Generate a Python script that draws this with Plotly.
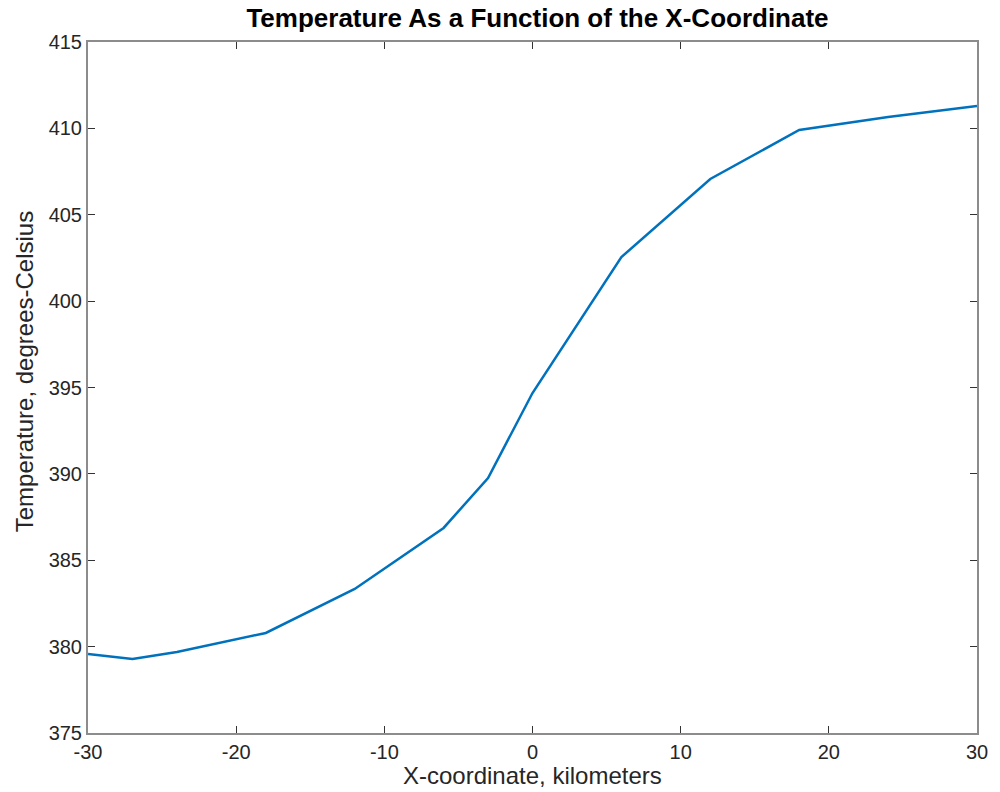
import plotly.graph_objects as go

# Temperature profile along the x-coordinate
x_km = [-30, -27, -24, -18, -12, -6, -3, 0, 6, 12, 18, 24, 30]
temp_c = [379.57, 379.28, 379.69, 380.79, 383.34, 386.87, 389.76,
          394.68, 402.55, 407.07, 409.91, 410.66, 411.30]

x_ticks = [-30, -20, -10, 0, 10, 20, 30]
x_tick_labels = ["-30", "-20", "-10", "0", "10", "20", "30"]
y_ticks = [375, 380, 385, 390, 395, 400, 405, 410, 415]
y_tick_labels = ["375", "380", "385", "390", "395", "400", "405", "410", "415"]

FONT = "Liberation Sans, Arial, Helvetica, sans-serif"

fig = go.Figure()
fig.add_trace(go.Scatter(
    x=x_km, y=temp_c, mode="lines",
    line=dict(color="#0072BD", width=2.5),
    showlegend=False,
))

axis_common = dict(
    showgrid=False, zeroline=False,
    showline=True, linecolor="#8c8c8c", linewidth=2,
    mirror="ticks", ticks="inside", ticklen=7, tickwidth=1,
    tickcolor="#333333",
    tickfont=dict(family=FONT, size=20, color="#262626"),
)

fig.update_layout(
    width=1000, height=792,
    paper_bgcolor="white", plot_bgcolor="white",
    margin=dict(l=88, r=17, t=42, b=59),
    title=dict(
        text="<b>Temperature As a Function of the X-Coordinate</b>",
        x=0.5375, xanchor="center", y=0.977, yanchor="middle",
        font=dict(family=FONT, size=26, color="black"),
    ),
    xaxis=dict(range=[-30, 30], tickvals=x_ticks, ticktext=x_tick_labels,
               **axis_common),
    yaxis=dict(range=[375, 415], tickvals=y_ticks, ticktext=y_tick_labels,
               **axis_common),
    annotations=[
        dict(text="X-coordinate, kilometers", xref="paper", yref="paper",
             x=0.5, y=0, xanchor="center", yanchor="middle", yshift=-42,
             showarrow=False, font=dict(family=FONT, size=24, color="#262626")),
        dict(text="Temperature, degrees-Celsius", xref="paper", yref="paper",
             x=0, y=0.522, xanchor="center", yanchor="middle", xshift=-64,
             textangle=-90, showarrow=False,
             font=dict(family=FONT, size=24, color="#262626")),
    ],
)

fig.write_html("out.html")
